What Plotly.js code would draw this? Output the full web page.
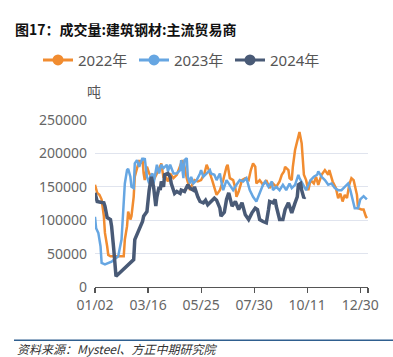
<!DOCTYPE html>
<html><head><meta charset="utf-8">
<script src="https://cdn.plot.ly/plotly-3.0.1.min.js"></script>
<style>html,body{margin:0;padding:0;background:#fff;}#chart{width:393px;height:357px;}</style>
</head><body><div id="chart"></div>
<script>
// x = trading-day index within the year (0 .. 247)
var tickIdx = [0, 48, 96, 144, 192, 240, 247];
var tickLabels = ["01/02", "03/16", "05/25", "07/30", "10/11", "12/30", ""];
var seriesNames = ["2022年", "2023年", "2024年"];

var x2022 = [0,2,4,6,8,9,11,12,14,19,26,27,29,30,32,33,35,36,38,40,41,43,44,45,47,49,51,53,56,57,60,62,63,66,68,71,74,77,79,81,83,86,87,90,93,96,99,101,103,106,108,110,113,116,119,120,122,125,127,128,130,133,136,139,141,143,145,146,149,152,155,158,161,164,167,169,171,172,175,176,178,179,181,183,184,185,187,188,189,191,193,195,198,200,202,205,208,211,212,215,218,220,222,224,226,228,230,232,234,237,238,241,243,245,246];
var y2022 = [153,141,138,131,106,81,61,48,46,46,46,71,91,113,101,106,135,165,180,190,185,190,170,160,180,170,165,160,170,173,185,163,168,158,170,163,168,180,190,180,163,145,150,160,158,160,170,183,175,160,150,138,145,160,180,183,163,160,148,135,143,160,163,160,175,185,180,155,160,153,160,148,155,150,158,168,173,180,175,163,160,180,205,218,225,232,215,180,168,160,145,160,155,165,153,168,175,168,175,158,148,133,140,128,138,133,153,163,160,138,118,116,116,106,103];

var x2023 = [0,1,3,5,6,9,15,21,24,26,27,29,30,32,33,35,36,38,40,41,43,44,45,47,49,50,52,53,56,58,60,62,65,66,68,71,74,77,78,80,81,83,84,86,87,89,92,95,96,98,101,104,105,108,110,113,114,116,119,122,125,128,131,134,137,140,143,146,149,152,154,157,160,161,164,167,170,173,176,178,181,184,185,188,191,195,198,201,202,205,208,211,214,217,220,223,226,229,231,234,235,238,240,243,245,246];
var y2023 = [105,88,81,61,36,34,38,46,71,121,155,175,177,165,150,148,185,190,180,185,193,190,193,165,155,165,170,155,183,170,183,178,183,173,183,170,170,175,190,163,190,193,165,155,165,155,160,170,175,165,170,175,170,168,160,170,160,145,160,153,145,153,160,158,163,145,135,128,140,153,158,150,158,145,150,145,153,145,155,148,153,168,163,153,145,160,165,168,173,165,160,153,155,148,145,145,150,155,145,121,118,118,131,136,133,131];

var x2024 = [0,2,5,8,9,11,14,15,17,19,21,33,35,36,40,43,44,47,49,51,53,55,56,58,59,60,62,63,66,68,69,71,72,74,77,78,81,84,86,89,90,93,95,98,100,102,105,108,110,113,114,117,119,121,124,127,130,133,136,139,142,145,147,149,152,155,157,158,161,163,164,167,170,172,175,176,178,181,183,184,186,187,189,190];
var y2024 = [141,128,127,126,121,104,101,91,56,16,19,38,41,71,86,98,106,113,145,165,150,121,135,150,145,158,150,168,170,165,155,143,140,143,140,145,143,153,148,145,150,135,128,126,130,123,128,133,130,118,106,112,131,141,121,128,116,126,108,101,111,118,116,101,98,96,116,128,126,131,121,101,101,116,126,121,111,126,135,153,155,145,133,135];

var colors = ["#F18C30", "#66A6E2", "#495A76"];
var widths = [2.5, 2.5, 3.5];
var xs = [x2022, x2023, x2024];
var ys = [y2022, y2023, y2024];

var traces = [];
for (var i = 0; i < 3; i++) {
  traces.push({
    type: "scatter", mode: "lines", x: xs[i],
    y: ys[i].map(function (v) { return v * 1000; }),
    line: {color: colors[i], width: widths[i]},
    showlegend: false, hoverinfo: "skip"
  });
}
for (var j = 0; j < 3; j++) {
  traces.push({
    type: "scatter", mode: "lines+markers", x: [null], y: [null],
    name: seriesNames[j],
    line: {color: colors[j], width: 3},
    marker: {color: colors[j], size: 11},
    showlegend: true
  });
}

var FONT = "Noto Sans, Noto Sans CJK SC, sans-serif";
var layout = {
  width: 393, height: 357,
  margin: {l: 95, r: 25, t: 120, b: 69.5, autoexpand: false},
  paper_bgcolor: "#fff", plot_bgcolor: "#fff",
  font: {family: FONT, size: 14, color: "#666"},
  showlegend: true,
  title: {
    text: "<b>图17：成交量:建筑钢材:主流贸易商</b>",
    x: 15 / 393, xanchor: "left", xref: "container",
    y: 1 - 30 / 357, yanchor: "middle", yref: "container",
    font: {family: "Noto Sans CJK SC, sans-serif", size: 14, color: "#111"}
  },
  legend: {
    orientation: "h",
    x: (38 - 95) / 273, xanchor: "left",
    y: (287.5 - 60) / 167.5, yanchor: "middle",
    entrywidth: 51,
    font: {family: FONT, size: 15, color: "#555"},
    itemclick: false, itemdoubleclick: false
  },
  xaxis: {
    range: [0, 247], type: "linear",
    tickvals: tickIdx, ticktext: tickLabels,
    showgrid: false, zeroline: false,
    showline: true, linecolor: "#555", linewidth: 1.2,
    ticks: "outside", ticklen: 5, tickcolor: "#555", tickwidth: 1.2,
    tickfont: {family: FONT, size: 14, color: "#666"}
  },
  yaxis: {
    range: [0, 250000], tickvals: [0, 50000, 100000, 150000, 200000, 250000],
    ticktext: ["0", "50000", "100000", "150000", "200000", "250000"],
    showgrid: true, gridcolor: "#E0E4EE", gridwidth: 1.2,
    zeroline: false, showline: false, ticks: "",
    ticklabelstandoff: 7,
    tickfont: {family: FONT, size: 14, color: "#666"}
  },
  annotations: [
    {text: "吨", xref: "paper", yref: "paper", x: -1 / 273, y: (287.5 - 91) / 167.5,
     xanchor: "center", yanchor: "middle", showarrow: false,
     font: {family: "Noto Sans CJK SC, sans-serif", size: 14, color: "#555"}},
    {text: "<i>资料来源：Mysteel、方正中期研究院</i>", xref: "paper", yref: "paper",
     x: (15 - 95) / 273, y: (287.5 - 349.5) / 167.5, xanchor: "left", yanchor: "middle",
     showarrow: false,
     font: {family: "Noto Sans CJK SC, sans-serif", size: 12, color: "#333"}}
  ],
  shapes: [
    {type: "line", xref: "paper", yref: "paper",
     x0: (14 - 95) / 273, x1: (393 - 95) / 273,
     y0: (287.5 - 341) / 167.5, y1: (287.5 - 341) / 167.5,
     line: {color: "#2F5F8F", width: 1.5}}
  ]
};
Plotly.newPlot("chart", traces, layout, {displayModeBar: false, staticPlot: true});
</script>
</body></html>
